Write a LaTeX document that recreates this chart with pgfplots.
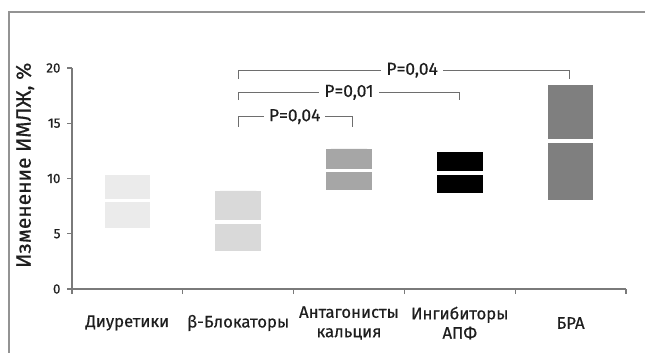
\documentclass[border=0pt]{standalone}
\usepackage{fontspec}
\setmainfont{Fira Sans}[FakeBold=0.5]
\usepackage{pgfplots}
\pgfplotsset{compat=1.18}
\usepgfplotslibrary{statistics}
\definecolor{axgray}{HTML}{7A7A7A}
\definecolor{brgray}{HTML}{6E6E6E}
\definecolor{txt}{HTML}{1E1E1E}
\definecolor{cA}{HTML}{EBEBEB}
\definecolor{cB}{HTML}{D9D9D9}
\definecolor{cC}{HTML}{A6A6A6}
\definecolor{cD}{HTML}{000000}
\definecolor{cE}{HTML}{7F7F7F}
\begin{document}
\begin{tikzpicture}
\begin{axis}[
  at={(72bp,64bp)}, anchor=south west,
  scale only axis, width=554bp, height=221bp,
  xmin=-0.5, xmax=4.5, ymin=0, ymax=20,
  clip=false,
  axis x line*=bottom, axis y line*=left,
  axis line style={-, draw=axgray, line width=1.3bp},
  tick align=outside,
  ytick={0,5,10,15,20},
  major tick length=5bp, minor tick length=5bp,
  ytick style={draw=axgray, line width=1.3bp},
  xtick={0,1,2,3,4},
  major x tick style={draw=none},
  minor xtick={-0.5,0.5,1.5,2.5,3.5,4.5},
  minor x tick style={draw=axgray, line width=1.3bp},
  xticklabels={Диуретики, β-Блокаторы, {Антагонисты\\кальция}, {Ингибиторы\\АПФ}, БРА},
  xticklabel style={align=center, anchor=center, yshift=-29bp, text=txt, font=\fontsize{16.8}{19.5}\selectfont},
  yticklabel style={text=txt, xshift=-3bp, font=\fontsize{13.5}{15}\selectfont},
  /pgf/number format/assume math mode=true,
  ylabel={Изменение ИМЛЖ, \%},
  every axis y label/.style={at={(axis description cs:0,0.56)}, rotate=90, anchor=center, yshift=47bp, text=txt, font=\fontsize{21}{24}\selectfont},
  boxplot/draw direction=y,
  boxplot/every box/.style={draw=none},
  boxplot/every whisker/.style={draw=none},
  boxplot/every median/.style={draw=white, line width=3.2bp},
]
\addplot[fill=cA, draw=none, boxplot prepared={draw position=0, lower quartile=5.55, median=8.03, upper quartile=10.29, lower whisker=5.55, upper whisker=10.29, box extend=0.41}] coordinates {};
\addplot[fill=cB, draw=none, boxplot prepared={draw position=1, lower quartile=3.47, median=6.06, upper quartile=8.87, lower whisker=3.47, upper whisker=8.87, box extend=0.41}] coordinates {};
\addplot[fill=cC, draw=none, boxplot prepared={draw position=2, lower quartile=8.96, median=10.74, upper quartile=12.67, lower whisker=8.96, upper whisker=12.67, box extend=0.41}] coordinates {};
\addplot[fill=cD, draw=none, boxplot prepared={draw position=3, lower quartile=8.69, median=10.5, upper quartile=12.37, lower whisker=8.69, upper whisker=12.37, box extend=0.41}] coordinates {};
\addplot[fill=cE, draw=none, boxplot prepared={draw position=4, lower quartile=8.08, median=13.4, upper quartile=18.46, lower whisker=8.08, upper whisker=18.46, box extend=0.41}] coordinates {};
% brackets
\draw[brgray, line width=1.3bp] (axis cs:1,14.7) -- (axis cs:1,15.6) -- (axis cs:2.03,15.6) -- (axis cs:2.03,14.7);
\node[fill=white, inner xsep=5bp, inner ysep=1bp, text=txt, font=\fontsize{17.5}{19}\selectfont] at (axis cs:1.51,15.6) {P=0,04};
\draw[brgray, line width=1.3bp] (axis cs:1,17.1) -- (axis cs:1,17.8) -- (axis cs:3.0,17.8) -- (axis cs:3.0,17.1);
\node[fill=white, inner xsep=5bp, inner ysep=1bp, text=txt, font=\fontsize{17.5}{19}\selectfont] at (axis cs:2.0,17.8) {P=0,01};
\draw[brgray, line width=1.3bp] (axis cs:1,19.0) -- (axis cs:1,19.8) -- (axis cs:3.99,19.8) -- (axis cs:3.99,19.0);
\node[fill=white, inner xsep=5bp, inner ysep=1bp, text=txt, font=\fontsize{17.5}{19}\selectfont] at (axis cs:2.57,19.8) {P=0,04};
\end{axis}
\draw[gray!85, line width=1.5bp] (9bp,-2bp) -- (9bp,341bp) -- (648bp,341bp);
\pgfresetboundingbox
\useasboundingbox (0,0) rectangle (645bp,353bp);
\end{tikzpicture}
\end{document}
